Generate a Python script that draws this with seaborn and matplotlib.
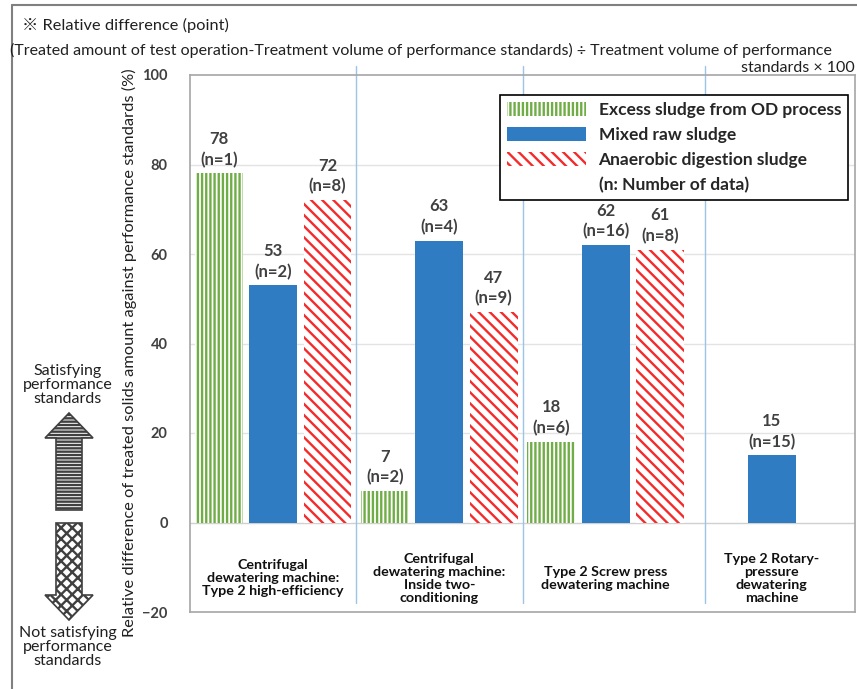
import pandas as pd
import matplotlib
matplotlib.use("Agg")
import matplotlib.pyplot as plt
from matplotlib.patches import Patch, Polygon
from matplotlib.lines import Line2D
import seaborn as sns

# data
machines = [
    "Centrifugal\ndewatering machine:\nType 2 high-efficiency",
    "Centrifugal\ndewatering machine:\nInside two-\nconditioning",
    "Type 2 Screw press\ndewatering machine",
    "Type 2 Rotary-\npressure\ndewatering\nmachine",
]
sludges = ["Excess sludge from OD process", "Mixed raw sludge", "Anaerobic digestion sludge"]
od_values = [78, 7, 18, None]
od_n = [1, 2, 6, None]
mixed_values = [53, 63, 62, 15]
mixed_n = [2, 4, 16, 15]
anaerobic_values = [72, 47, 61, None]
anaerobic_n = [8, 9, 8, None]

green = "#70ad47"
blue = "#2f7cc3"
red = "#f52a2a"
txt = "#404040"

rows = []
for sl, vals, ns in zip(sludges, [od_values, mixed_values, anaerobic_values], [od_n, mixed_n, anaerobic_n]):
    for m, v, n in zip(machines, vals, ns):
        if v is not None:
            rows.append({"machine": m, "sludge": sl, "diff": v, "n": n})
df = pd.DataFrame(rows)

sns.set_style("white")
plt.rcParams["font.family"] = ["Lato", "Noto Sans CJK JP", "DejaVu Sans"]
plt.rcParams["hatch.linewidth"] = 1.7

fig = plt.figure(figsize=(8.57, 6.89), dpi=100)
ax = fig.add_axes([190 / 857, 1 - 612 / 689, 665 / 857, 537 / 689])

sns.barplot(data=df, x="machine", y="diff", hue="sludge", order=machines, hue_order=sludges,
            palette=[green, blue, red], width=0.98, gap=0.12, saturation=1,
            errorbar=None, legend=False, ax=ax)

styles = [(green, "||||"), (blue, None), (red, "\\\\\\")]
for cont, (col, hatch) in zip(ax.containers, styles):
    for bar in cont:
        if hatch:
            bar.set_facecolor("white")
            bar.set_edgecolor(col)
            bar.set_hatch(hatch)
        bar.set_linewidth(0)

for cont, sl in zip(ax.containers, sludges):
    sub = df[df.sludge == sl]
    labs = [f"{v}\n(n={n})" for v, n in zip(sub["diff"], sub["n"])]
    ax.bar_label(cont, labels=labs, padding=4, fontsize=12, fontweight="bold", color=txt, linespacing=1.35)

ax.set_xlim(-0.5, 3.5)
ax.set_ylim(-20, 100)
ax.set_yticks([-20, 0, 20, 40, 60, 80, 100])
ax.tick_params(axis="y", length=0, pad=16, labelsize=10.5, labelcolor=txt)
for lab in ax.get_yticklabels():
    lab.set_fontweight("bold")
ax.set_xticks([])
ax.set_xlabel("")
ax.set_ylabel("Relative difference of treated solids amount against performance standards (%)",
              fontsize=11.8, color="#202020", labelpad=6)
ax.yaxis.set_label_coords(-0.08, 0.482)
for y in [20, 40, 60, 80]:
    ax.axhline(y, color="#e3e3e3", lw=1, zorder=0)
ax.axhline(0, color="#d0d0d0", lw=1, zorder=0)
for xd in [0.5, 1.5, 2.6]:
    ax.plot([xd, xd], [-18, 102], color="#9dc3e6", lw=1, clip_on=False, zorder=0)
for sp in ax.spines.values():
    sp.set_color("#a6a6a6")
    sp.set_linewidth(1.2)

for i, m in enumerate(machines):
    ax.text(i, -12.5, m, ha="center", va="center", fontsize=10.3, fontweight="bold",
            color="#101010", linespacing=1.1)

handles = [Patch(facecolor="white", edgecolor=green, hatch="||||", lw=0),
           Patch(facecolor=blue, edgecolor="none"),
           Patch(facecolor="white", edgecolor=red, hatch="\\\\\\", lw=0),
           Patch(facecolor="none", edgecolor="none")]
leg = fig.legend(handles, sludges + ["(n: Number of data)"], loc="upper right",
                 bbox_to_anchor=(848 / 857, 1 - 95 / 689), bbox_transform=fig.transFigure,
                 frameon=True, fancybox=False, framealpha=1, edgecolor="black",
                 prop={"weight": "bold", "size": 12.5}, handlelength=4.6, handleheight=0.9,
                 labelspacing=0.5, borderpad=0.4, handletextpad=0.7, borderaxespad=0)
leg.get_frame().set_linewidth(1.2)

# notes at the top
fig.text(22 / 857, 1 - 25 / 689, "※ Relative difference (point)", fontsize=11.8, va="center", color="#202020")
fig.text(10 / 857, 1 - 50 / 689,
         "(Treated amount of test operation-Treatment volume of performance standards) ÷ Treatment volume of performance",
         fontsize=11.5, va="center", color="#202020")
fig.text(855 / 857, 1 - 68 / 689, "standards × 100", fontsize=11.5, va="center", ha="right", color="#202020")

# left side arrows
fig.text(68 / 857, 1 - 385 / 689, "Satisfying\nperformance\nstandards", ha="center", va="center",
         fontsize=11.5, linespacing=1.0, color="#202020")
fig.text(68 / 857, 1 - 647 / 689, "Not satisfying\nperformance\nstandards", ha="center", va="center",
         fontsize=11.5, linespacing=1.0, color="#202020")

def px(x, y):
    return (x / 857, 1 - y / 689)

up = [px(69, 413), px(93, 438), px(82, 438), px(82, 510), px(56, 510), px(56, 438), px(45, 438)]
down = [px(56, 523), px(82, 523), px(82, 595), px(93, 595), px(69, 620), px(45, 595), px(56, 595)]
fig.add_artist(Polygon(up, closed=True, transform=fig.transFigure, facecolor="white",
                       edgecolor="#404040", hatch="-----", lw=1.2))
fig.add_artist(Polygon(down, closed=True, transform=fig.transFigure, facecolor="white",
                       edgecolor="#404040", hatch="xxx", lw=1.2))

# outer frame
fig.add_artist(Line2D([12 / 857, 12 / 857], [0, 1 - 5 / 689], transform=fig.transFigure, color="#808080", lw=1.5))
fig.add_artist(Line2D([12 / 857, 1], [1 - 5 / 689, 1 - 5 / 689], transform=fig.transFigure, color="#808080", lw=1.5))

fig.savefig("out.png", dpi=100)
